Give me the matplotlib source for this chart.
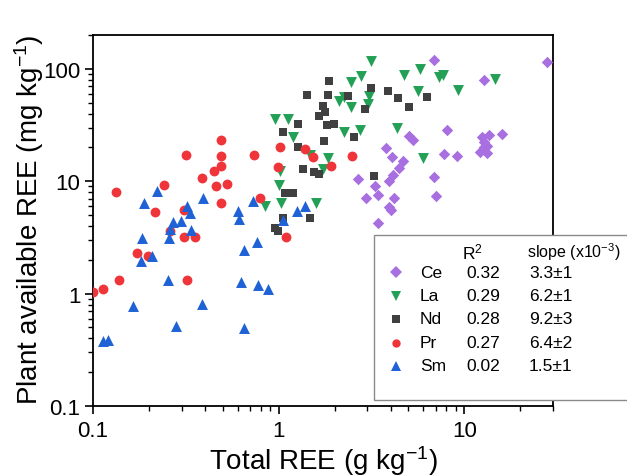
import matplotlib
matplotlib.use('Agg')
import matplotlib.pyplot as plt
from matplotlib.lines import Line2D
from matplotlib.patches import Rectangle
from matplotlib.ticker import LogLocator, FuncFormatter, NullFormatter

plt.rcParams['font.family'] = ['Liberation Sans', 'DejaVu Sans']
plt.rcParams['mathtext.fontset'] = 'custom'
plt.rcParams['mathtext.rm'] = 'Liberation Sans'
plt.rcParams['mathtext.it'] = 'Liberation Sans'

# --- data (Total REE g/kg, plant available mg/kg) ---
ce_x = [6.88, 27.7, 12.7, 8.09, 5.04, 5.3, 3.79, 4.08, 4.68, 4.45, 4.13, 3.93,
        7.8, 9.16, 6.88, 7.06, 2.67, 3.30, 3.43, 2.95, 4.19, 3.93, 4.03, 3.43,
        16.0, 13.6, 12.5, 12.8, 12.7, 13.2, 12.1, 13.2]
ce_y = [120, 115, 79.7, 28.5, 25.2, 23.2, 19.7, 16.4, 15.1, 13.1, 11.3, 10.0,
        17.4, 16.7, 10.9, 7.35, 10.4, 9.0, 7.5, 7.05, 7.05, 5.86, 5.5, 4.22,
        26.3, 25.7, 24.7, 22.3, 20.1, 20.5, 18.2, 17.8]

la_x = [3.14, 2.77, 2.45, 2.11, 2.25, 2.45, 3.07, 3.03, 2.25, 2.74, 0.96, 1.12,
        1.19, 1.47, 1.84, 1.73, 1.01, 1.0, 1.03, 0.84, 1.58, 4.34, 4.74, 5.78,
        5.64, 7.33, 7.7, 9.29, 14.7, 6.0]
la_y = [118, 86.6, 76.5, 51.8, 56.2, 45.8, 57.4, 48.7, 27.4, 28.5, 35.8, 35.8,
        24.7, 17.1, 16.0, 12.8, 12.3, 9.2, 6.36, 5.98, 6.36, 29.7, 88.4, 100,
        63.6, 84.8, 88.4, 64.9, 81.4, 16.0]

nd_x = [1.86, 1.42, 1.84, 2.36, 3.14, 3.88, 4.4, 6.31, 5.04, 1.73, 1.77, 1.64,
        1.82, 1.98, 1.27, 1.05, 2.54, 1.75, 1.27, 2.92, 1.35, 1.55, 1.64, 3.26,
        1.08, 1.19, 1.06, 1.47, 0.96, 0.99]
nd_y = [78.2, 58.6, 58.6, 57.4, 67.6, 63.6, 55.1, 56.2, 45.8, 46.8, 41.3, 38.0,
        31.6, 32.3, 32.3, 27.4, 24.7, 22.8, 20.1, 43.9, 12.8, 12.0, 11.5, 11.1,
        7.8, 7.8, 4.67, 4.67, 3.8, 3.58]

pr_x = [0.1, 0.113, 0.138, 0.133, 0.242, 0.216, 0.318, 0.486, 0.486, 0.492,
        0.451, 0.388, 0.462, 0.524, 0.486, 0.310, 0.310, 0.356, 0.261, 0.173,
        0.198, 0.322, 0.789, 0.99, 1.09, 0.733, 1.01, 1.38, 1.53, 1.91, 2.48]
pr_y = [1.04, 1.09, 1.31, 7.97, 9.2, 5.29, 17.1, 23.2, 16.7, 13.6,
        12.3, 10.6, 9.0, 9.4, 6.4, 5.5, 3.2, 3.2, 3.58, 2.28,
        2.18, 1.33, 7.05, 13.3, 3.16, 17.1, 20.1, 19.3, 16.4, 13.6, 16.7]

sm_x = [0.222, 0.189, 0.322, 0.334, 0.393, 0.271, 0.299, 0.261, 0.258, 0.339,
        0.184, 0.208, 0.182, 0.6, 0.615, 0.723, 0.76, 0.647, 0.254, 0.623,
        0.77, 0.872, 0.165, 0.384, 0.281, 0.647, 0.113, 0.121, 1.06, 1.25, 1.38]
sm_y = [8.14, 6.36, 5.98, 5.18, 7.05, 4.3, 4.39, 3.73, 3.1, 3.65,
        3.1, 2.18, 1.97, 5.4, 4.58, 6.63, 2.85, 2.42, 1.31, 1.28,
        1.2, 1.09, 0.78, 0.81, 0.51, 0.49, 0.38, 0.39, 4.49, 5.4, 5.98]

elements = ['Ce', 'La', 'Nd', 'Pr', 'Sm']
r2_values = ['0.32', '0.29', '0.28', '0.27', '0.02']
slope_values = ['3.3\u00b11', '6.2\u00b11', '9.2\u00b13', '6.4\u00b12', '1.5\u00b11']

series = [
    (ce_x, ce_y, 'D', '#A86FE0', 34),
    (la_x, la_y, 'v', '#22A055', 62),
    (nd_x, nd_y, 's', '#404040', 38),
    (pr_x, pr_y, 'o', '#EF3539', 50),
    (sm_x, sm_y, '^', '#1E62D6', 62),
]

W, H = 627, 477
fig = plt.figure(figsize=(W / 100, H / 100), dpi=100)
ax = fig.add_axes([93 / W, 1 - 407 / H, 460 / W, 371 / H])

for xs, ys, mk, col, s in series:
    ax.scatter(xs, ys, marker=mk, s=s, c=col, linewidths=0, zorder=3)

ax.set_xscale('log')
ax.set_yscale('log')
ax.set_xlim(0.1, 30)
ax.set_ylim(0.1, 200)

fmt = FuncFormatter(lambda v, p: '%g' % v)
for axis in (ax.xaxis, ax.yaxis):
    axis.set_major_locator(LogLocator(base=10, numticks=10))
    axis.set_minor_locator(LogLocator(base=10, subs=range(2, 10), numticks=10))
    axis.set_major_formatter(fmt)
    axis.set_minor_formatter(NullFormatter())

ax.tick_params(which='major', direction='out', length=6, width=1.2,
               labelsize=16, pad=3, top=False, right=False)
ax.tick_params(axis='x', which='major', pad=4)
ax.tick_params(which='minor', direction='out', length=3.5, width=1.0,
               top=False, right=False)
for sp in ax.spines.values():
    sp.set_linewidth(1.3)

fig.text(323 / W, 1 - 461 / H, 'Total REE (g kg$^{-1}$)', fontsize=20,
         ha='center', va='center')
fig.text(29 / W, 1 - 220 / H, 'Plant available REE (mg kg$^{-1}$)', fontsize=20,
         ha='center', va='center', rotation=90)

# custom legend table
box = Rectangle((374 / W, 1 - 401 / H), 260 / W, 165 / H, transform=fig.transFigure,
                facecolor='white', edgecolor='#8a8a8a', linewidth=1.0, zorder=5)
fig.patches.append(box)

fig.text(462 / W, 1 - 252 / H, 'R$^2$', fontsize=12.5, va='center', zorder=6)
fig.text(527 / W, 1 - 252 / H, 'slope (x10$^{-3}$)', fontsize=11.5, va='center', zorder=6)

for i, (name, r2, slope) in enumerate(zip(elements, r2_values, slope_values)):
    yy = 1 - (273 + 23.5 * i) / H
    _, _, mk, col, s = series[i]
    fig.lines.append(Line2D([396 / W], [yy], marker=mk, color=col,
                            markersize=7 if mk in 'v^' else 6,
                            linestyle='none', markeredgewidth=0,
                            transform=fig.transFigure, zorder=6))
    fig.text(420 / W, yy, name, fontsize=12.5, va='center', zorder=6)
    fig.text(466 / W, yy, r2, fontsize=12.5, va='center', zorder=6)
    fig.text(529 / W, yy, slope, fontsize=12.5, va='center', zorder=6)

fig.savefig('out.png', dpi=100)
